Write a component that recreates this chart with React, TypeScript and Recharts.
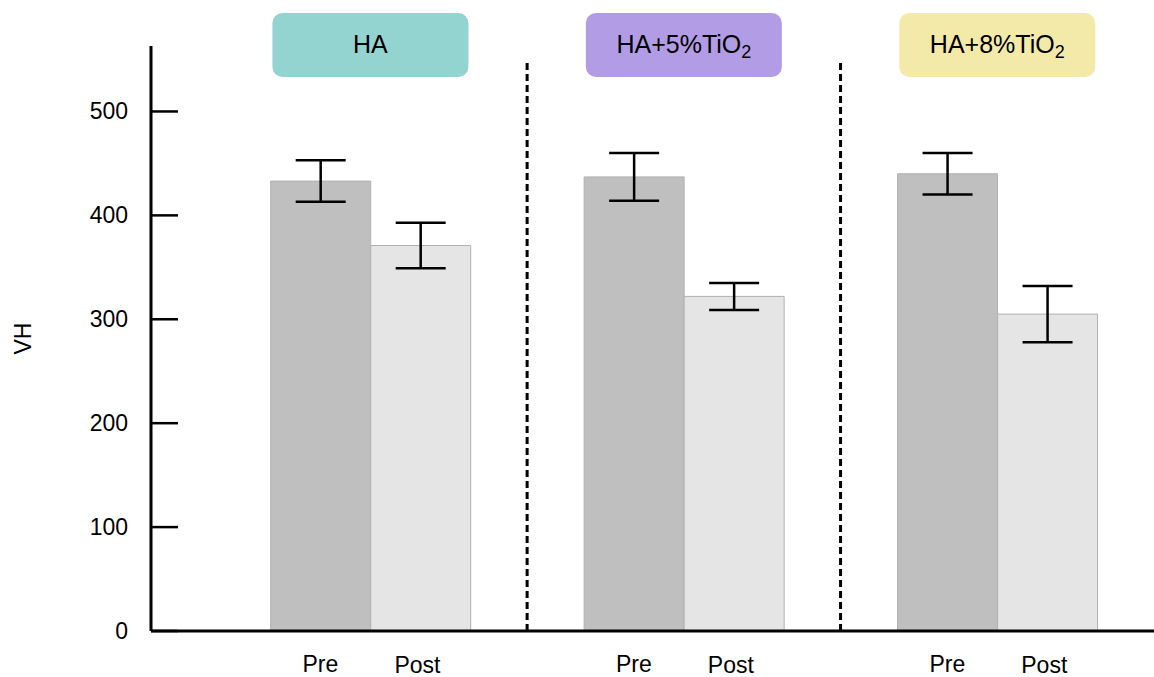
import React from 'react';
import { ComposedChart, Bar, XAxis, YAxis, ErrorBar, ReferenceLine } from 'recharts';

const groups = ['HA', 'HA+5%TiO', 'HA+8%TiO'];
const groupHasSub = [false, true, true];
const groupColors = ['#93d3d0', '#b39ce6', '#f3eaa9'];
const preValues = [433, 437, 440];
const postValues = [371, 322, 305];
const preErrors = [20, 23, 20];
const postErrors = [22, 13, 27];
const yTicks = [0, 100, 200, 300, 400, 500];

const FONT = '"Liberation Sans", Arial, Helvetica, sans-serif';

const data = groups.map((g, i) => ({
  pos: i,
  pre: preValues[i],
  post: postValues[i],
  preErr: preErrors[i],
  postErr: postErrors[i],
}));

const YTick = ({ x, y, payload }: any) => (
  <g>
    <line x1={x} x2={x + 27} y1={y} y2={y} stroke="#000" strokeWidth={2.5} />
    <text x={x - 23} y={y} textAnchor="end" dominantBaseline="central" fontSize={23} fontFamily={FONT} fill="#000">
      {payload.value}
    </text>
  </g>
);

const BottomTick = ({ x, payload }: any) => (
  <g>
    <text x={x - 50} y={672} textAnchor="middle" fontSize={23} fontFamily={FONT} fill="#000">Pre</text>
    <text x={x + 47} y={673} textAnchor="middle" fontSize={23} fontFamily={FONT} fill="#000">Post</text>
  </g>
);

const GroupTick = ({ x, payload }: any) => {
  const i = payload.value;
  return (
    <g>
      <rect x={x - 98} y={13} width={196} height={64} rx={10} fill={groupColors[i]} />
      <text x={x} y={53} textAnchor="middle" fontSize={25} fontFamily={FONT} fill="#000">
        {groups[i]}
        {groupHasSub[i] && (
          <tspan fontSize={18} dy={5}>2</tspan>
        )}
      </text>
    </g>
  );
};

const VhLabel = ({ viewBox }: any) => {
  const cy = viewBox.y + viewBox.height / 2;
  return (
    <text x={23} y={cy} transform={`rotate(-90, 23, ${cy})`} textAnchor="middle" dominantBaseline="central" fontSize={23} fontFamily={FONT} fill="#000">
      VH
    </text>
  );
};

export default function App() {
  return (
    <div style={{ position: 'absolute', left: 0, top: 0, background: '#fff' }}>
      <ComposedChart
        width={1154}
        height={677}
        data={data}
        margin={{ top: 0, right: 0, bottom: 0, left: 0 }}
        barGap={0}
      >
        <XAxis
          xAxisId="top"
          orientation="top"
          dataKey="pos"
          type="number"
          domain={[-0.7, 2.5]}
          ticks={[0, 1, 2]}
          height={46}
          axisLine={false}
          tickLine={false}
          tick={<GroupTick />}
        />
        <XAxis
          dataKey="pos"
          type="number"
          domain={[-0.7, 2.5]}
          ticks={[0, 1, 2]}
          height={46}
          axisLine={{ stroke: '#000', strokeWidth: 3 }}
          tickLine={false}
          tick={<BottomTick />}
        />
        <YAxis
          type="number"
          domain={[0, 563]}
          ticks={yTicks}
          width={151}
          tickSize={0}
          tickMargin={0}
          axisLine={{ stroke: '#000', strokeWidth: 3 }}
          tickLine={false}
          tick={<YTick />}
          label={<VhLabel />}
        />
        {/* dashed separators between the three material groups */}
        <ReferenceLine
          segment={[{ x: 0.5, y: 0 }, { x: 0.5, y: 550 }]}
          stroke="#000"
          strokeWidth={3}
          strokeDasharray="7 4"
        />
        <ReferenceLine
          segment={[{ x: 1.5, y: 0 }, { x: 1.5, y: 550 }]}
          stroke="#000"
          strokeWidth={3}
          strokeDasharray="7 4"
        />
        <Bar dataKey="pre" barSize={100} fill="#bfbfbf" stroke="#b0b0b0" strokeWidth={1} isAnimationActive={false}>
          <ErrorBar dataKey="preErr" width={25} stroke="#000" strokeWidth={2.5} />
        </Bar>
        <Bar dataKey="post" barSize={100} fill="#e5e5e5" stroke="#b0b0b0" strokeWidth={1} isAnimationActive={false}>
          <ErrorBar dataKey="postErr" width={25} stroke="#000" strokeWidth={2.5} />
        </Bar>
      </ComposedChart>
    </div>
  );
}
